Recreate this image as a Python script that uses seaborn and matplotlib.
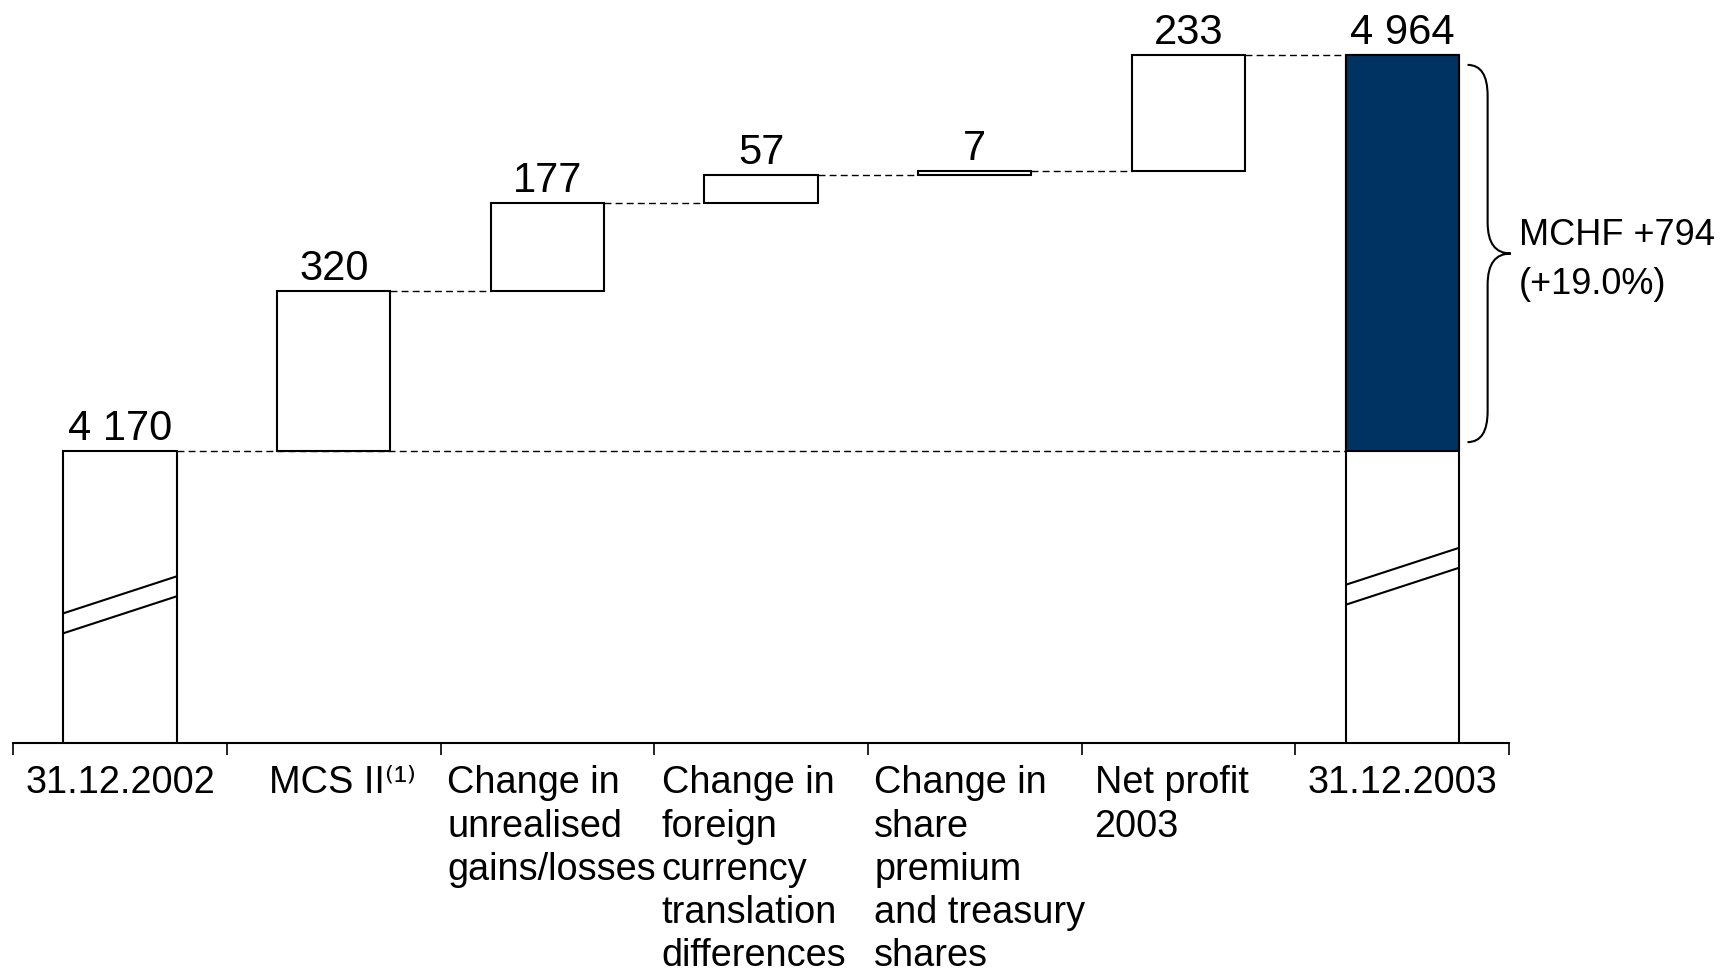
import numpy as np
import pandas as pd
import matplotlib
matplotlib.use("Agg")
import matplotlib.pyplot as plt
from matplotlib.path import Path
from matplotlib.patches import PathPatch
from matplotlib.transforms import ScaledTranslation
import seaborn as sns

# Chart data (MCHF)
categories = [
    "31.12.2002",
    "MCS II⁽¹⁾",
    "Change in\nunrealised\ngains/losses",
    "Change in\nforeign\ncurrency\ntranslation\ndifferences",
    "Change in\nshare\npremium\nand treasury\nshares",
    "Net profit\n2003",
    "31.12.2003",
]
start_value = 4170
changes = [320, 177, 57, 7, 233]
end_value = 4964
delta_text = "MCHF +794\n(+19.0%)"

# Style
NAVY = "#003361"
BAR_W = 0.53
AXIS_FLOOR = 3585      # broken value axis starts here
Y_TOP = 5074
DASH = (0, (5, 3))
LABEL_NUDGE_PX = [0, 9, 4, -7, 5, -17, 0]   # small horizontal shifts of tick labels

sns.set_style("white")
plt.rcParams['font.family'] = ['Liberation Sans', 'DejaVu Sans']
plt.rcParams['text.color'] = 'black'
plt.rcParams['xtick.color'] = 'black'
plt.rcParams['axes.labelcolor'] = 'black'


def build_steps():
    tops = start_value + np.cumsum(changes)
    bases = [0] + [start_value] + list(tops[:-1]) + [0]
    heights = [start_value] + list(changes) + [end_value]
    return pd.DataFrame({"step": categories, "height": heights, "base": bases}), tops


def draw_brace(ax, x_end, x_mid, x_tip, y_top, y_bot, r):
    y_mid = (y_top + y_bot) / 2
    verts = [(x_end, y_top), (x_mid, y_top), (x_mid, y_top - r),
             (x_mid, y_mid + r),
             (x_mid, y_mid), (x_tip, y_mid),
             (x_mid, y_mid), (x_mid, y_mid - r),
             (x_mid, y_bot + r),
             (x_mid, y_bot), (x_end, y_bot)]
    codes = [Path.MOVETO, Path.CURVE3, Path.CURVE3,
             Path.LINETO,
             Path.CURVE3, Path.CURVE3,
             Path.CURVE3, Path.CURVE3,
             Path.LINETO,
             Path.CURVE3, Path.CURVE3]
    ax.add_patch(PathPatch(Path(verts, codes), fill=False, lw=1.5,
                           edgecolor="black", clip_on=False))


df, tops = build_steps()

fig = plt.figure(figsize=(17.21, 9.76), dpi=100)
ax = fig.add_axes([13.2 / 1721, 0.2387, (1509 - 13.2) / 1721, 1 - 0.2387])

# Waterfall bars (white boxes)
sns.barplot(data=df, x="step", y="height", order=categories,
            bottom=df["base"].values, color="white", saturation=1,
            edgecolor="black", linewidth=1.5, width=BAR_W,
            errorbar=None, ax=ax)
# Increase over the year, highlighted in navy
sns.barplot(x=[categories[-1]], y=[end_value - start_value], order=categories,
            bottom=start_value, color=NAVY, saturation=1,
            edgecolor="black", linewidth=1.5, width=BAR_W,
            errorbar=None, ax=ax)

# Dashed connectors
n = len(categories)
levels = [start_value] + list(tops)
x_from = [i + BAR_W / 2 for i in range(n - 1)]
x_to = [n - 1 - BAR_W / 2] + [i + 1 - BAR_W / 2 for i in range(1, n - 1)]
ax.hlines(levels, x_from, x_to, colors="black", linestyles=DASH, linewidth=1)

# Axis break marks on the two total bars
for i, y0 in [(0, 3805), (n - 1, 3862)]:
    for gap in (0, 40):
        ax.plot([i - BAR_W / 2, i + BAR_W / 2], [y0 + gap, y0 + gap + 74],
                color="black", lw=1.5, solid_capstyle="butt")

# Value labels
values = [start_value] + list(changes) + [end_value]
label_tops = [start_value] + list(tops) + [end_value]
for i, (v, t) in enumerate(zip(values, label_tops)):
    ax.annotate(f"{v:,}".replace(",", " "), (i, t), xytext=(0, 8),
                textcoords="offset points", ha="center", va="baseline",
                fontsize=30)

# Brace + total change
draw_brace(ax, 6.306, 6.40, 6.508, end_value - 20, start_value + 18, 62)
ax.text(6.545, (end_value + start_value) / 2 - 14, delta_text, ha="left",
        va="center", fontsize=26, linespacing=1.5, clip_on=False)

# Axes styling
ax.set_xlim(-0.5, n - 0.5)
ax.set_ylim(AXIS_FLOOR, Y_TOP)
ax.set_xlabel("")
ax.set_ylabel("")
ax.set_yticks([])
for s in ["top", "left", "right"]:
    ax.spines[s].set_visible(False)
ax.spines["bottom"].set_color("black")
ax.spines["bottom"].set_linewidth(1.5)
ax.set_xticks(range(n))
ax.set_xticklabels(categories)
ax.set_xticks(np.arange(-0.5, n), minor=True)
ax.tick_params(axis="x", which="major", length=0, pad=16, labelsize=27.3,
               labelcolor="black")
ax.tick_params(axis="x", which="minor", length=8.6, width=1.2,
               direction="out", color="black", bottom=True)
for lbl, dx in zip(ax.get_xticklabels(), LABEL_NUDGE_PX):
    lbl.set_multialignment("left")
    lbl.set_linespacing(1.26)
    lbl.set_transform(lbl.get_transform() + ScaledTranslation(dx / 100, 0, fig.dpi_scale_trans))

fig.savefig("out.png", dpi=100)
